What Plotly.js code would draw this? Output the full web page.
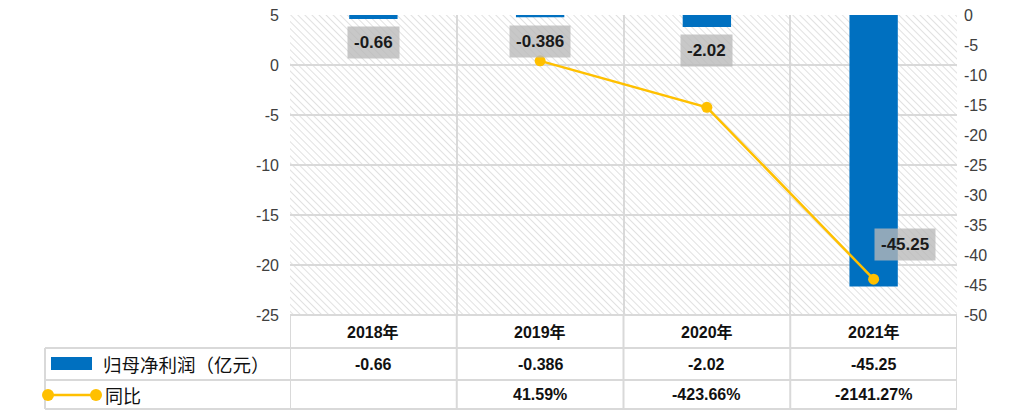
<!DOCTYPE html>
<html><head><meta charset="utf-8">
<script src="https://cdn.plot.ly/plotly-3.0.1.min.js"></script>
<style>html,body{margin:0;padding:0;background:#fff}#c{width:1025px;height:420px}</style>
</head><body><div id="c"></div>
<script>
const years = ["2018年","2019年","2020年","2021年"];
const profit = [-0.66, -0.386, -2.02, -45.25];
const profitText = ["-0.66","-0.386","-2.02","-45.25"];
const growth = [null, 41.59, -423.66, -2141.27];
const growthText = ["", "41.59%", "-423.66%", "-2141.27%"];
const seriesNames = ["归母净利润（亿元）", "同比"];
const leftTicks = [5, 0, -5, -10, -15, -20, -25];
const rightTicks = [0, -5, -10, -15, -20, -25, -30, -35, -40, -45, -50];

const FONT = "Liberation Sans, Noto Sans CJK SC, sans-serif";
const CJK = "Noto Sans CJK SC, sans-serif";
const BLUE = "#0070C0", GOLD = "#FFC000", GRID = "#d9d9d9";
const xIdx = years.map((_, i) => i);

const L = 290, R = 68, T = 15, B = 105, W = 1025, H = 420;
const PW = W - L - R, PH = H - T - B;
const py = p => (H - B - p) / PH;
const px = p => (p - L) / PW;

const hatch = 'data:image/svg+xml;utf8,' + encodeURIComponent(
  `<svg xmlns="http://www.w3.org/2000/svg" width="${PW}" height="${PH}" viewBox="0 0 ${PW} ${PH}" preserveAspectRatio="none">` +
  `<defs><pattern id="p" width="5" height="5" patternUnits="userSpaceOnUse" patternTransform="rotate(-45)">` +
  `<line x1="0" y1="0" x2="0" y2="5" stroke="#d4d4d4" stroke-width="1.4"/></pattern></defs>` +
  `<rect width="100%" height="100%" fill="#fff"/><rect width="100%" height="100%" fill="url(#p)"/></svg>`);

const traces = [
  {type: "bar", x: xIdx, y: profit, xaxis: "x", yaxis: "y", width: 0.29,
   marker: {color: BLUE}, hoverinfo: "skip", name: seriesNames[0]},
  {type: "scatter", mode: "lines+markers", x: xIdx, y: growth.map(v => v == null ? null : v / 100),
   xaxis: "x", yaxis: "y2",
   line: {color: GOLD, width: 2.5}, marker: {color: GOLD, size: 11}, hoverinfo: "skip", name: seriesNames[1]}
];

const labelShift = [[0, -24], [0, -24], [0, -23], [31, 42]];
const annotations = [];
profit.forEach((v, i) => {
  annotations.push({x: i, y: v, xref: "x", yref: "y", text: "<b>" + profitText[i] + "</b>",
    showarrow: false, xshift: labelShift[i][0], yshift: labelShift[i][1],
    font: {family: FONT, size: 17, color: "#1a1a1a"},
    bgcolor: "rgba(185,185,185,0.78)", borderpad: 6});
});

const rowTop = [H - B, 348, 380, 409];
const rowMid = i => (rowTop[i] + rowTop[i + 1]) / 2;
const cell = (x, xref, y, text, font, xanchor) => ({x, y, xref, yref: "paper", text, showarrow: false,
  xanchor: xanchor || "center", yanchor: "middle", font});
const bold = {family: FONT, size: 16, color: "#111"};
years.forEach((yr, i) => {
  annotations.push(cell(i, "x", py(rowMid(0)), "<b>" + yr + "</b>", bold));
  annotations.push(cell(i, "x", py(rowMid(1)), "<b>" + profitText[i] + "</b>", bold));
  if (growthText[i]) annotations.push(cell(i, "x", py(rowMid(2)), "<b>" + growthText[i] + "</b>", bold));
});
annotations.push(cell(px(101), "paper", py(rowMid(1)), seriesNames[0], {family: CJK, size: 18.5, color: "#111"}, "left"));
annotations.push(cell(px(103), "paper", py(rowMid(2)), seriesNames[1], {family: CJK, size: 18, color: "#111"}, "left"));

const shapes = [];
const ln = {color: GRID, width: 2};
for (let k = 0; k <= years.length; k++) {
  shapes.push({type: "line", xref: "x", yref: "paper", x0: k - 0.5, x1: k - 0.5, y0: py(rowTop[0]), y1: py(rowTop[3]), line: ln});
}
shapes.push({type: "line", xref: "paper", yref: "paper", x0: px(45), x1: px(45), y0: py(rowTop[1]), y1: py(rowTop[3]), line: ln});
for (let r = 1; r <= 3; r++) {
  shapes.push({type: "line", xref: "paper", yref: "paper", x0: px(45), x1: 1, y0: py(rowTop[r]), y1: py(rowTop[r]), line: ln});
}
shapes.push({type: "line", xref: "paper", yref: "paper", x0: 0, x1: 1, y0: 0, y1: 0, line: ln});
shapes.push({type: "rect", xref: "paper", yref: "paper", x0: px(51), x1: px(92), y0: py(370), y1: py(357),
  fillcolor: BLUE, line: {width: 0}});
shapes.push({type: "line", xref: "paper", yref: "paper", x0: px(48), x1: px(96), y0: py(395), y1: py(395),
  line: {color: GOLD, width: 2.5}});
[48, 96].forEach(c => shapes.push({type: "circle", xref: "paper", yref: "paper",
  x0: px(c - 6), x1: px(c + 6), y0: py(395 + 6), y1: py(395 - 6), fillcolor: GOLD, line: {width: 0}}));

const fmt = v => String(v).replace("\u2212", "-");
const layout = {
  width: W, height: H, margin: {l: L, r: R, t: T, b: B},
  paper_bgcolor: "#fff", plot_bgcolor: "rgba(0,0,0,0)", showlegend: false,
  font: {family: FONT, size: 15, color: "#404040"},
  xaxis: {range: [-0.5, years.length - 0.5], tickvals: [-0.5, 0.5, 1.5, 2.5, 3.5], showticklabels: false,
    showgrid: true, gridcolor: GRID, gridwidth: 2, zeroline: false, showline: false, fixedrange: true},
  yaxis: {range: [-50, 0], side: "right", tickmode: "array", tickvals: rightTicks, ticktext: rightTicks.map(fmt),
    showgrid: false, zeroline: false, ticklabelstandoff: 6, tickfont: {size: 16, color: "#404040"}, fixedrange: true},
  yaxis2: {range: [-25, 5], overlaying: "y", side: "left", tickmode: "array", tickvals: leftTicks, ticktext: leftTicks.map(fmt),
    showgrid: true, gridcolor: GRID, gridwidth: 2, zeroline: false,
    ticklabelstandoff: 10, tickfont: {size: 16, color: "#404040"}, fixedrange: true},
  images: [{source: hatch, xref: "paper", yref: "paper", x: 0, y: 1, sizex: 1, sizey: 1,
    xanchor: "left", yanchor: "top", sizing: "stretch", layer: "below"}],
  annotations, shapes
};
Plotly.newPlot("c", traces, layout, {displayModeBar: false, staticPlot: true});
</script></body></html>
